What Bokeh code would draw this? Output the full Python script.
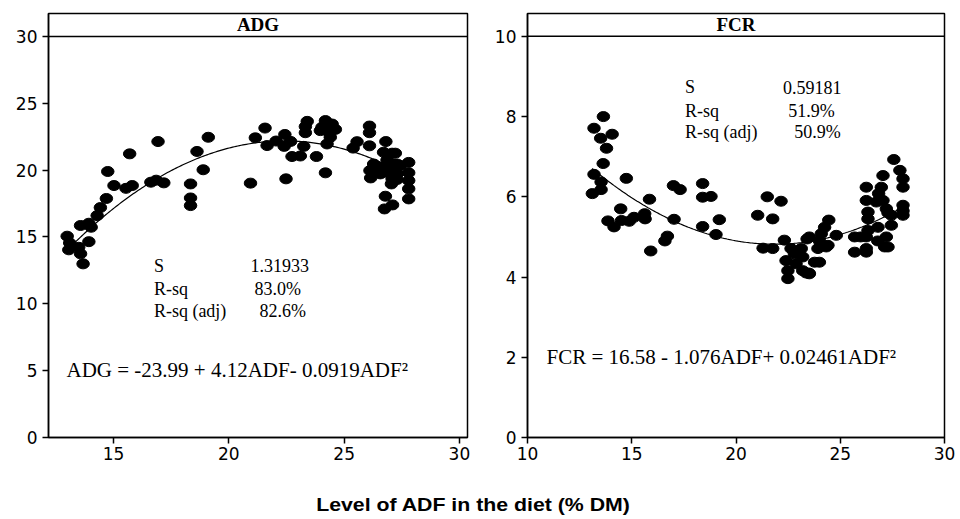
from bokeh.plotting import figure
from bokeh.models import Range1d, FixedTicker, Span, Label, Div, ColumnDataSource
from bokeh.layouts import row, column
from bokeh.embed import file_html
from bokeh.resources import INLINE
import numpy as np

# ---------------- data ----------------
adg_x = [12.99, 13.06, 13.10, 13.49, 13.57, 13.68, 13.57, 13.93, 14.03, 13.93, 14.29, 14.43, 14.69, 14.75,
         15.02, 15.54, 15.81, 15.70, 16.62, 16.85, 17.18, 16.93, 18.34, 18.34, 18.34, 18.62, 18.89, 19.11,
         20.94, 21.15, 21.57, 21.66, 22.05, 22.43, 22.40, 22.68, 22.48, 22.74, 23.10, 23.25, 23.32, 23.40,
         23.32, 23.80, 23.97, 24.04, 24.19, 24.19, 24.26, 24.33, 24.40, 24.48, 24.62, 25.39, 25.56, 26.10,
         26.10, 26.10, 26.12, 26.15, 26.28, 26.50, 26.57, 26.71, 26.71, 26.81, 26.86, 26.86, 27.00, 27.08,
         27.05, 27.08, 27.22, 27.30, 27.30, 27.30, 27.15, 27.44, 27.80, 27.80, 27.80, 27.80, 27.80, 26.79,
         26.75, 27.10]
adg_y = [15.06, 14.04, 14.55, 14.23, 13.74, 12.99, 15.86, 16.03, 15.73, 14.65, 16.60, 17.20, 17.88, 19.90,
         18.85, 18.64, 18.85, 21.22, 19.10, 19.25, 19.05, 22.14, 18.97, 17.92, 17.35, 21.40, 20.03, 22.46,
         19.03, 22.42, 23.15, 21.84, 22.18, 22.67, 21.78, 22.15, 19.35, 21.02, 21.06, 21.78, 23.26, 23.65,
         22.80, 21.02, 22.96, 23.21, 23.71, 19.80, 21.96, 22.84, 22.46, 23.45, 23.05, 21.65, 22.13, 23.30,
         22.80, 21.82, 19.97, 19.42, 20.46, 20.22, 19.72, 21.34, 20.10, 22.14, 20.76, 19.84, 20.22, 21.27,
         18.97, 19.35, 21.27, 20.46, 19.72, 19.30, 20.46, 20.34, 20.58, 19.80, 19.22, 18.60, 17.85, 18.05,
         17.10, 17.40]

fcr_x = [13.19, 13.64, 13.51, 14.06, 13.79, 13.63, 13.19, 13.53, 13.53, 13.11, 14.74, 13.86, 14.15, 14.47,
         14.51, 14.88, 15.11, 15.62, 15.64, 15.85, 15.91, 17.00, 17.32, 17.03, 16.71, 16.59, 18.40, 18.40,
         18.80, 18.40, 19.20, 19.04, 21.04, 21.50, 21.76, 22.16, 21.30, 21.76, 22.32, 22.64, 23.41, 23.13,
         23.93, 24.09, 24.25, 24.45, 24.41, 24.81, 22.40, 22.80, 22.49, 22.49, 23.20, 23.20, 22.88, 23.37,
         23.50, 23.77, 24.00, 23.52, 23.52, 24.00, 24.33, 25.69, 25.98, 25.69, 26.25, 26.25, 26.33, 26.33,
         26.33, 26.25, 26.25, 26.25, 26.73, 26.84, 26.97, 27.05, 27.05, 27.21, 27.29, 27.45, 27.45, 26.81,
         27.21, 26.80, 27.29, 27.13, 27.57, 27.86, 28.01, 28.01, 28.01, 28.01, 28.01]
fcr_y = [7.71, 8.00, 7.46, 7.56, 7.21, 6.83, 6.56, 6.37, 6.18, 6.08, 6.46, 5.40, 5.25, 5.70,
         5.41, 5.39, 5.49, 5.58, 5.45, 5.94, 4.65, 6.28, 6.18, 5.44, 5.02, 4.90, 6.33, 5.99,
         6.01, 5.26, 5.43, 5.06, 5.54, 6.00, 5.45, 5.89, 4.72, 4.71, 4.92, 4.71, 4.95, 4.71,
         4.71, 5.08, 5.24, 5.42, 4.79, 5.04, 4.41, 4.58, 4.16, 3.96, 4.50, 4.16, 4.33, 4.10,
         4.10, 4.37, 4.37, 4.08, 5.00, 4.90, 4.75, 5.00, 5.00, 4.62, 6.24, 5.91, 5.62, 5.45,
         5.16, 5.00, 4.62, 4.71, 5.87, 6.08, 6.24, 6.53, 5.91, 5.70, 5.60, 5.54, 5.29, 5.24,
         5.00, 4.90, 4.75, 4.75, 6.93, 6.66, 6.45, 6.24, 5.79, 5.54, 5.65]

adg_coef = [-23.99, 4.12, -0.0919]
fcr_coef = [16.58, -1.076, 0.02461]
fit_x_range = [13.1, 27.9]

adg_xticks = [15, 20, 25, 30]
adg_yticks = [0, 5, 10, 15, 20, 25, 30]
fcr_xticks = [10, 15, 20, 25, 30]
fcr_yticks = [0, 2, 4, 6, 8, 10]

adg_stats = [("S", "1.31933"), ("R-sq", "83.0%"), ("R-sq (adj)", "82.6%")]
fcr_stats = [("S", "0.59181"), ("R-sq", "51.9%"), ("R-sq (adj)", "50.9%")]
adg_eq = "ADG = -23.99 + 4.12ADF- 0.0919ADF\u00b2"
fcr_eq = "FCR = 16.58 - 1.076ADF+ 0.02461ADF\u00b2"
x_label = "Level of ADF in the diet (% DM)"

SERIF = "Liberation Serif"
SANS = "DejaVu Sans"


def make_panel(title, xs, ys, coef, xr, yr, yband, xticks, yticks, border_left, border_right, width,
               stats, stat_pos, eq, eq_pos):
    p = figure(width=width, height=474, x_range=Range1d(*xr), y_range=Range1d(*yr),
               output_backend="svg", toolbar_location=None,
               min_border_left=border_left, min_border_right=border_right,
               min_border_top=13, min_border_bottom=37)
    p.grid.visible = False
    p.outline_line_color = "black"
    p.outline_line_width = 1.5
    p.background_fill_color = "white"
    for ax, ticks in ((p.xaxis[0], xticks), (p.yaxis[0], yticks)):
        ax.ticker = FixedTicker(ticks=ticks)
        ax.axis_line_color = "black"
        ax.axis_line_width = 1.5
        ax.major_tick_line_color = "black"
        ax.major_tick_line_width = 1.5
        ax.major_tick_out = 6
        ax.major_tick_in = 0
        ax.minor_tick_line_color = None
        ax.major_label_text_font = SANS
        ax.major_label_text_font_size = "17px"
        ax.major_label_text_color = "black"
    p.xaxis[0].major_label_standoff = 3
    p.yaxis[0].major_label_standoff = 5

    # title band
    p.add_layout(Span(location=yband, dimension="width", line_color="black", line_width=1.5))
    p.add_layout(Label(x=(xr[0] + xr[1]) / 2, y=(yband + yr[1]) / 2, text=title,
                       text_font=SERIF, text_font_style="bold", text_font_size="19px",
                       text_color="black", text_align="center", text_baseline="middle"))

    # fitted curve
    fx = np.linspace(fit_x_range[0], fit_x_range[1], 200)
    fy = coef[0] + coef[1] * fx + coef[2] * fx ** 2
    p.line(fx, fy, line_color="black", line_width=1.2)

    # points
    src = ColumnDataSource(dict(x=xs, y=ys))
    p.ellipse(x="x", y="y", width=12.5, height=10, width_units="screen", height_units="screen",
              fill_color="black", line_color="black", source=src)

    # stats
    (lx, vxs, rows_y) = stat_pos
    for (name, val), vx, ry in zip(stats, vxs, rows_y):
        p.add_layout(Label(x=lx, y=ry, text=name, text_font=SERIF, text_font_size="18px",
                           text_color="black", text_baseline="middle", text_align="left"))
        p.add_layout(Label(x=vx, y=ry, text=val, text_font=SERIF, text_font_size="18px",
                           text_color="black", text_baseline="middle", text_align="left"))
    p.add_layout(Label(x=eq_pos[0], y=eq_pos[1], text=eq, text_font=SERIF, text_font_size="21px",
                       text_color="black", text_baseline="middle", text_align="left"))
    return p


p1 = make_panel("ADG", adg_x, adg_y, adg_coef, (12.18, 30.35), (0, 31.72), 30,
                adg_xticks, adg_yticks, 48, 13, 480, adg_stats,
                (16.75, [20.94, 21.11, 21.33], [12.86, 11.14, 9.50]),
                adg_eq, (12.96, 5.05))
p2 = make_panel("FCR", fcr_x, fcr_y, fcr_coef, (10, 30), (0, 10.57), 10,
                fcr_xticks, fcr_yticks, 47, 16, 480, fcr_stats,
                (17.55, [22.26, 22.50, 22.79], [8.73, 8.15, 7.61]),
                fcr_eq, (10.91, 2.0))

lab = Div(text='<div style="text-align:center;font-weight:bold;font-size:19px;'
               'font-family:\'Liberation Sans\',Arial,sans-serif;padding-top:12px;color:black;'
               'width:936px;transform:scaleX(1.12);transform-origin:468px 0;">' + x_label + '</div>',
          width=944, height=42)

layout = column(row(p1, p2), lab)
open("out.html", "w").write(file_html(layout, INLINE))
